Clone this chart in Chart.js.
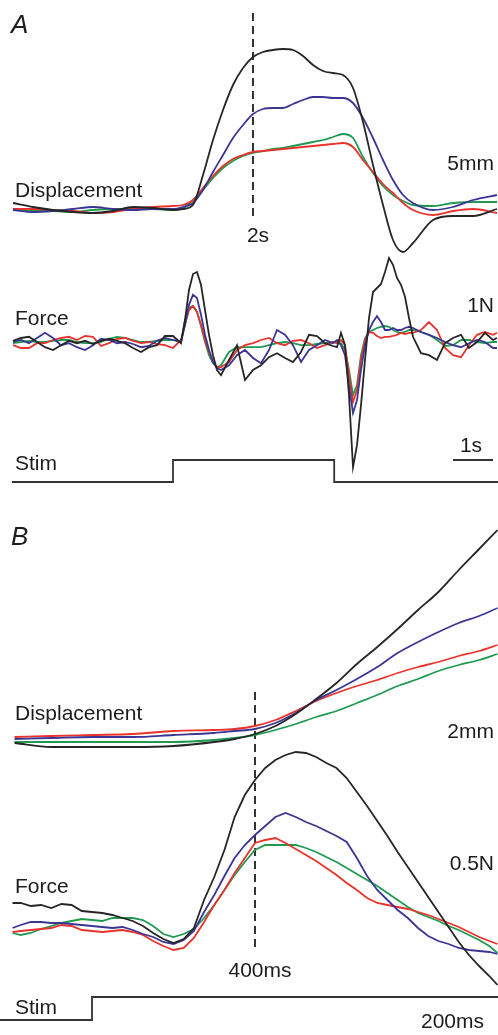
<!DOCTYPE html>
<html>
<head>
<meta charset="utf-8">
<script src="https://cdn.jsdelivr.net/npm/chart.js@4.4.1/dist/chart.umd.min.js"></script>
<style>
  html, body { margin: 0; padding: 0; background: #ffffff; }
  #wrap { width: 498px; height: 1035px; position: relative; }
  canvas { display: block; }
</style>
</head>
<body>
<div id="wrap"><canvas id="c" width="498" height="1035"></canvas></div>
<script>
// ---------- Panel A : displacement (mm) vs time (s, 0 = stimulus onset) ----------
const aDispT = [-4, -3.5, -3, -2.5, -2, -1.5, -1, -0.5, 0, 0.25, 0.5, 0.75, 1, 1.25, 1.5, 1.75, 2, 2.25, 2.5, 2.75, 3, 3.25, 3.5, 3.75, 4, 4.25, 4.5, 4.75, 5, 5.25, 5.5, 5.75, 6, 6.5, 7, 7.5, 8.1];
const aDispBlack = [0.7, 0.3, 0, -0.2, -0.3, -0.1, 0.3, 0.2, 0, 0.1, 0.5, 3.5, 7.0, 10.0, 12.5, 14.2, 15.3, 15.8, 16.0, 16.1, 16.0, 15.4, 14.5, 13.9, 13.7, 13.5, 12.2, 8.8, 4.5, 0.5, -3.0, -4.2, -3.3, -1.0, -0.6, -0.6, 0.1];
const aDispBlue  = [0, -0.2, -0.1, 0.1, 0.3, 0.1, 0, 0.1, 0.1, 0.3, 0.7, 2.0, 3.8, 5.5, 7.2, 8.5, 9.6, 10.1, 10.2, 10.2, 10.6, 11.0, 11.3, 11.3, 11.2, 11.2, 10.7, 9.2, 7.2, 5.0, 3.0, 1.5, 0.7, 0, 0.3, 1.0, 1.5];
const aDispRed   = [0.1, 0.1, 0, -0.1, -0.3, -0.2, 0.1, 0.3, 0.4, 0.5, 1.0, 2.2, 3.4, 4.4, 5.1, 5.5, 5.8, 5.9, 6.0, 6.1, 6.2, 6.3, 6.4, 6.5, 6.6, 6.7, 6.3, 5.0, 3.8, 2.6, 1.7, 0.7, 0, -0.5, -0.1, 0.1, -0.3];
const aDispGreen = [0, 0, -0.1, -0.2, 0, 0.1, 0.1, 0.1, 0, 0.2, 1.0, 2.0, 3.2, 4.2, 4.9, 5.4, 5.7, 5.9, 6.1, 6.2, 6.4, 6.6, 6.8, 7.0, 7.3, 7.6, 7.2, 5.3, 3.7, 2.4, 1.5, 0.9, 0.5, 0.4, 0.7, 0.8, 0.8];

// ---------- Panel A : force (N) ----------
const aForceT = [-4.0, -3.8, -3.6, -3.4, -3.2, -3.0, -2.8, -2.6, -2.4, -2.2, -2.0, -1.8, -1.6, -1.4, -1.2, -1.0, -0.8, -0.6, -0.4, -0.2, 0, 0.2,
  0.3, 0.4, 0.5, 0.6, 0.7, 0.8, 0.9, 1.0, 1.1, 1.2,
  1.4, 1.6, 1.8, 2.0, 2.2, 2.4, 2.6, 2.8, 3.0, 3.2, 3.4, 3.6, 3.8, 4.0,
  4.1, 4.2, 4.3, 4.4, 4.5, 4.6, 4.7, 4.8, 4.9, 5.0, 5.1, 5.2, 5.3, 5.4, 5.5, 5.6, 5.7, 5.8, 5.9, 6.0,
  6.2, 6.4, 6.6, 6.8, 7.0, 7.2, 7.4, 7.6, 7.8, 8.0, 8.1];
const aForceBlack = [0.03, 0.10, 0.13, 0, -0.13, -0.20, -0.08, 0.03, -0.03, 0.03, -0.05, 0.03, 0.08, 0.03, -0.03, -0.15, -0.25, -0.13, -0.08, 0.15, 0.15, -0.03,
  0.55, 1.30, 1.70, 1.75, 1.43, 0.80, 0.18, -0.33, -0.70, -0.83,
  -0.45, -0.08, -0.95, -0.70, -0.58, -0.38, -0.28, -0.40, -0.50, -0.25, 0.18, 0.15, -0.03, -0.10,
  -0.13, 0.23, -0.08, -1.33, -3.13, -2.58, -1.58, -0.45, 0.60, 1.25, 1.35, 1.45, 1.75, 2.10, 1.93, 1.60, 1.43, 1.13, 0.60, 0.13,
  -0.28, -0.33, -0.45, -0.03, 0.10, 0.18, -0.15, 0, 0.23, 0.05, 0.10];
const aForceBlue = [0, 0.05, -0.03, 0.10, 0.23, 0.10, -0.08, -0.03, -0.13, -0.20, -0.08, 0.08, 0.05, -0.03, 0, -0.05, -0.13, -0.10, 0.03, 0.10, 0.05, 0,
  0.43, 0.93, 1.18, 1.10, 0.68, 0.18, -0.20, -0.50, -0.65, -0.70,
  -0.58, -0.33, -0.20, -0.40, -0.53, -0.20, 0.30, 0.18, -0.08, -0.50, -0.20, -0.08, 0.05, -0.03,
  0.05, -0.08, -0.33, -1.08, -1.78, -1.45, -0.70, -0.08, 0.30, 0.50, 0.65, 0.50, 0.30, 0.30, 0.35, 0.30, 0.30, 0.35, 0.38, 0.35,
  0.25, 0.18, 0.10, 0, -0.08, -0.13, -0.03, 0.05, 0, -0.15, -0.15];
const aForceRed = [-0.08, -0.15, -0.15, -0.03, -0.03, 0.05, 0.10, 0.13, 0.05, 0.15, 0.13, -0.10, -0.03, 0.08, 0.10, 0.03, -0.03, 0, -0.05, -0.08, -0.15, 0.05,
  0.43, 0.80, 0.90, 0.75, 0.43, 0.05, -0.25, -0.50, -0.63, -0.63,
  -0.50, -0.20, -0.08, -0.03, 0.05, 0.10, -0.03, -0.08, 0.03, 0.05, -0.03, -0.15, -0.08, 0,
  -0.03, 0.05, -0.08, -0.83, -1.50, -1.20, -0.45, 0.05, 0.25, 0.23, 0.15, 0.10, 0.13, 0.13, 0.15, 0.18, 0.23, 0.20, 0.23, 0.23,
  0.30, 0.50, 0.30, -0.15, -0.33, -0.38, -0.08, 0.18, 0.25, 0.18, 0.23];
const aForceGreen = [-0.03, 0, 0.03, 0, 0, 0.03, 0.05, 0.05, 0, -0.03, -0.03, 0, 0.08, 0.13, 0.10, 0.05, 0, 0, 0.03, 0.05, 0.05, 0,
  0.55, 0.85, 0.90, 0.75, 0.40, 0, -0.33, -0.53, -0.63, -0.58,
  -0.25, -0.13, -0.13, -0.13, -0.13, -0.08, -0.03, 0, -0.03, -0.08, -0.08, -0.05, -0.03, 0,
  0, -0.03, -0.20, -0.70, -1.33, -1.08, -0.33, 0.10, 0.25, 0.30, 0.35, 0.38, 0.40, 0.38, 0.30, 0.25, 0.23, 0.25, 0.30, 0.30,
  0.25, 0.18, 0.05, -0.10, -0.08, 0.05, 0.05, 0, -0.03, 0, 0];

// ---------- Panel A : stimulus ----------
const aStimT = [-4.03, 0, 0, 4.03, 4.03, 8.13];
const aStimV = [0, 0, 1, 1, 0, 0];
const aMarkerT = 2;            // dashed line "2s"
const aScaleBarT = [7, 8];     // "1s" scale bar

// ---------- Panel B : displacement (mm) vs time (ms) ----------
const bDispT = [-190, -100, 0, 100, 200, 300, 350, 400, 450, 500, 550, 600, 650, 700, 750, 800, 850, 900, 950, 995];
const bDispBlack = [-0.25, -0.45, -0.45, -0.45, -0.4, -0.2, -0.05, 0.2, 0.6, 1.2, 1.95, 2.75, 3.7, 4.55, 5.45, 6.4, 7.3, 8.4, 9.45, 10.4];
const bDispBlue  = [-0.05, 0, 0.05, 0.05, 0.15, 0.25, 0.35, 0.45, 0.75, 1.25, 1.9, 2.4, 2.95, 3.55, 4.25, 4.8, 5.3, 5.75, 6.1, 6.5];
const bDispRed   = [0.05, 0.1, 0.15, 0.2, 0.35, 0.4, 0.45, 0.6, 0.9, 1.35, 1.85, 2.25, 2.6, 2.9, 3.25, 3.55, 3.8, 4.1, 4.35, 4.65];
const bDispGreen = [-0.2, -0.2, -0.2, -0.2, -0.2, -0.1, 0, 0.15, 0.4, 0.7, 1.05, 1.35, 1.75, 2.15, 2.6, 2.95, 3.35, 3.65, 3.9, 4.2];

// ---------- Panel B : force (N) ----------
const bForceT = [-195, -175, -150, -125, -100, -75, -50, -25, 0, 25, 50, 75, 100, 125, 150, 175, 200, 225, 250, 275, 300, 325, 350, 375, 400, 425, 450, 475, 500, 525, 550, 575, 600, 625, 650, 675, 700, 725, 750, 775, 800, 825, 850, 875, 900, 925, 950, 975, 995];
const bForceBlack = [0.22, 0.22, 0.19, 0.20, 0.17, 0.21, 0.20, 0.14, 0.13, 0.12, 0.10, 0.07, 0.04, -0.01, -0.08, -0.14, -0.18, -0.14, -0.03, 0.25, 0.48, 0.75, 1.08, 1.30, 1.45, 1.57, 1.65, 1.70, 1.73, 1.72, 1.68, 1.62, 1.57, 1.47, 1.33, 1.19, 1.04, 0.89, 0.73, 0.58, 0.43, 0.28, 0.13, -0.02, -0.17, -0.30, -0.41, -0.51, -0.60];
const bForceBlue  = [-0.03, 0, 0.03, 0.03, 0.02, 0.02, 0.01, 0, -0.01, -0.02, -0.03, -0.02, -0.05, -0.09, -0.12, -0.17, -0.19, -0.15, -0.06, 0.13, 0.30, 0.49, 0.67, 0.80, 0.90, 0.99, 1.08, 1.12, 1.08, 1.03, 0.99, 0.94, 0.89, 0.83, 0.67, 0.49, 0.35, 0.25, 0.15, 0.07, -0.03, -0.11, -0.16, -0.19, -0.23, -0.25, -0.26, -0.27, -0.29];
const bForceRed   = [-0.07, -0.06, -0.05, -0.04, -0.03, 0, -0.01, -0.05, -0.06, -0.07, -0.06, -0.05, -0.07, -0.10, -0.16, -0.21, -0.25, -0.23, -0.13, 0.03, 0.20, 0.35, 0.52, 0.67, 0.82, 0.85, 0.87, 0.82, 0.76, 0.70, 0.64, 0.57, 0.50, 0.42, 0.35, 0.27, 0.22, 0.20, 0.18, 0.16, 0.13, 0.10, 0.06, 0.02, -0.02, -0.07, -0.12, -0.16, -0.19];
const bForceGreen = [-0.08, -0.10, -0.08, -0.04, -0.01, 0.02, 0.04, 0.06, 0.05, 0.04, 0.07, 0.07, 0.07, 0.05, -0.01, -0.09, -0.12, -0.09, -0.04, 0.07, 0.20, 0.35, 0.50, 0.63, 0.75, 0.80, 0.80, 0.80, 0.80, 0.77, 0.73, 0.68, 0.63, 0.57, 0.51, 0.45, 0.39, 0.32, 0.25, 0.18, 0.12, 0.08, 0.04, -0.01, -0.05, -0.10, -0.15, -0.21, -0.28];

// ---------- Panel B : stimulus ----------
const bStimT = [-230, 0, 0, 1000];
const bStimV = [0, 0, 1, 1];
const bMarkerT = 400;          // dashed line "400ms"

// ---------- styling ----------
const COL = { black: '#262626', blue: '#3b3594', red: '#e8332c', green: '#1f9a50' };
const FONT = '"Liberation Sans", Arial, Helvetica, sans-serif';

const pts = (xs, ys) => xs.map((x, i) => ({ x: x, y: ys[i] }));
const trace = (xs, ys, color, xId, yId, smooth) => ({
  data: pts(xs, ys), borderColor: color, borderWidth: 1.8, pointRadius: 0,
  xAxisID: xId, yAxisID: yId, fill: false,
  cubicInterpolationMode: smooth ? 'monotone' : 'default', tension: 0
});

const datasets = [
  trace(aDispT, aDispBlack, COL.black, 'xA', 'yAD', true),
  trace(aDispT, aDispBlue, COL.blue, 'xA', 'yAD', true),
  trace(aDispT, aDispRed, COL.red, 'xA', 'yAD', true),
  trace(aDispT, aDispGreen, COL.green, 'xA', 'yAD', true),
  trace(aForceT, aForceBlack, COL.black, 'xA', 'yAF', false),
  trace(aForceT, aForceBlue, COL.blue, 'xA', 'yAF', false),
  trace(aForceT, aForceRed, COL.red, 'xA', 'yAF', false),
  trace(aForceT, aForceGreen, COL.green, 'xA', 'yAF', false),
  trace(aStimT, aStimV, '#333333', 'xA', 'yAS', false),
  { data: [{ x: aScaleBarT[0], y: 1 }, { x: aScaleBarT[1], y: 1 }], borderColor: '#333333', borderWidth: 2, pointRadius: 0, xAxisID: 'xA', yAxisID: 'yAS' },
  { data: [{ x: aMarkerT, y: 19.7 }, { x: aMarkerT, y: -1.0 }], borderColor: '#333333', borderWidth: 2, borderDash: [8, 5], pointRadius: 0, xAxisID: 'xA', yAxisID: 'yAD' },
  trace(bDispT, bDispBlack, COL.black, 'xB', 'yBD', true),
  trace(bDispT, bDispBlue, COL.blue, 'xB', 'yBD', true),
  trace(bDispT, bDispRed, COL.red, 'xB', 'yBD', true),
  trace(bDispT, bDispGreen, COL.green, 'xB', 'yBD', true),
  trace(bForceT, bForceBlack, COL.black, 'xB', 'yBF', false),
  trace(bForceT, bForceBlue, COL.blue, 'xB', 'yBF', false),
  trace(bForceT, bForceRed, COL.red, 'xB', 'yBF', false),
  trace(bForceT, bForceGreen, COL.green, 'xB', 'yBF', false),
  trace(bStimT, bStimV, '#333333', 'xB', 'yBS', false),
  { data: [{ x: bMarkerT, y: 2.33 }, { x: bMarkerT, y: -0.25 }], borderColor: '#333333', borderWidth: 2, borderDash: [8, 5], pointRadius: 0, xAxisID: 'xB', yAxisID: 'yBF' }
];

// Each hidden axis spans the whole canvas; ranges place each trace in its band.
const H = 1035;
const band = (basePx, pxPerUnit) => ({ min: (basePx - H) / pxPerUnit, max: basePx / pxPerUnit });
const yAx = (r) => ({ type: 'linear', display: false, min: r.min, max: r.max, position: 'left' });

// Text annotations (real text drawn on the canvas)
const texts = [
  { t: 'A', x: 11, y: 33, align: 'left', italic: true, size: 26 },
  { t: 'Displacement', x: 15, y: 197, align: 'left' },
  { t: '5mm', x: 494, y: 170, align: 'right' },
  { t: '2s', x: 258, y: 242, align: 'center' },
  { t: 'Force', x: 15, y: 325, align: 'left' },
  { t: '1N', x: 494, y: 312, align: 'right' },
  { t: '1s', x: 471, y: 452, align: 'center' },
  { t: 'Stim', x: 15, y: 470, align: 'left' },
  { t: 'B', x: 11, y: 545, align: 'left', italic: true, size: 26 },
  { t: 'Displacement', x: 15, y: 720, align: 'left' },
  { t: '2mm', x: 494, y: 738, align: 'right' },
  { t: 'Force', x: 15, y: 893, align: 'left' },
  { t: '0.5N', x: 494, y: 870, align: 'right' },
  { t: '400ms', x: 260, y: 977, align: 'center' },
  { t: 'Stim', x: 15, y: 1014, align: 'left' },
  { t: '200ms', x: 484, y: 1028, align: 'right' }
];

const textPlugin = {
  id: 'texts',
  afterDatasetsDraw(chart) {
    const ctx = chart.ctx;
    ctx.save();
    ctx.fillStyle = '#1c1c1c';
    ctx.textBaseline = 'alphabetic';
    texts.forEach(o => {
      ctx.font = (o.italic ? 'italic ' : '') + (o.size || 21) + 'px ' + FONT;
      ctx.textAlign = o.align;
      ctx.fillText(o.t, o.x, o.y);
    });
    ctx.restore();
  }
};

new Chart(document.getElementById('c'), {
  type: 'line',
  data: { datasets },
  options: {
    responsive: false,
    animation: false,
    devicePixelRatio: 1,
    layout: { padding: 0 },
    plugins: { legend: { display: false }, tooltip: { enabled: false }, title: { display: false } },
    elements: { point: { radius: 0 } },
    scales: {
      xA: { type: 'linear', display: false, min: -173 / 40, max: (498 - 173) / 40 },
      xB: { type: 'linear', display: false, min: -92 / 0.4075, max: (498 - 92) / 0.4075 },
      yAD: yAx(band(210, 10)),
      yAF: yAx(band(342, 40)),
      yAS: yAx(band(482, 22)),
      yBD: yAx(band(738, 20)),
      yBF: yAx(band(925, 100)),
      yBS: yAx(band(1020, 23))
    }
  },
  plugins: [textPlugin]
});
</script>
</body>
</html>
